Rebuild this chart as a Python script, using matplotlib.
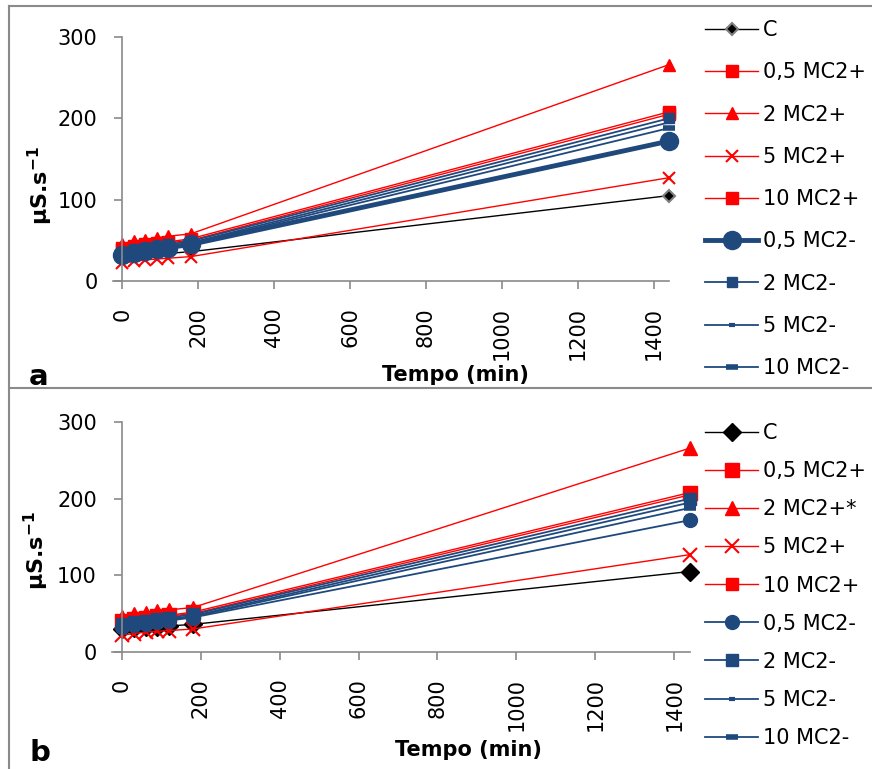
import matplotlib
matplotlib.use("Agg")
import matplotlib.pyplot as plt
from matplotlib.lines import Line2D

# dados: tempo (min) e condutividade
tempo = [0, 30, 60, 90, 120, 180, 1440]
nomes_a = ["C", "0,5 MC2+", "2 MC2+", "5 MC2+", "10 MC2+", "0,5 MC2-", "2 MC2-", "5 MC2-", "10 MC2-"]
nomes_b = ["C", "0,5 MC2+", "2 MC2+*", "5 MC2+", "10 MC2+", "0,5 MC2-", "2 MC2-", "5 MC2-", "10 MC2-"]
c_ctrl = [30, 31, 32, 33, 34, 36, 105]
mc05p = [40, 43, 45, 47, 48, 52, 208]
mc2p = [46, 49, 51, 53, 55, 58, 266]
mc5p = [22, 24, 26, 27, 28, 30, 127]
mc10p = [38, 41, 43, 45, 47, 50, 205]
mc05m = [32, 35, 37, 39, 41, 45, 172]
mc2m = [36, 39, 41, 43, 45, 49, 200]
mc5m = [34, 37, 39, 41, 43, 47, 195]
mc10m = [33, 36, 38, 40, 42, 46, 188]
series = [c_ctrl, mc05p, mc2p, mc5p, mc10p, mc05m, mc2m, mc5m, mc10m]

RED = "#FF0000"
BLUE = "#1F497D"
GRAY = "#8A8A8A"

# estilos (cor, marcador, tamanho, espessura linha, mew, cor borda)
estilo_a = [
    ("black", "D", 6, 1.0, 1.5, "#7F7F7F"),
    (RED, "s", 9, 1.0, 1, RED),
    (RED, "^", 9, 1.0, 1, RED),
    (RED, "x", 8, 1.0, 1.5, RED),
    (RED, "s", 8, 1.0, 1, RED),
    (BLUE, "o", 13, 3.5, 1, BLUE),
    (BLUE, "s", 7, 1.3, 1, BLUE),
    (BLUE, "_", 5, 1.3, 3, BLUE),
    (BLUE, "_", 8, 1.3, 4, BLUE),
]
estilo_b = [
    ("black", "D", 9, 1.0, 1, "black"),
    (RED, "s", 10, 1.0, 1, RED),
    (RED, "^", 10, 1.0, 1, RED),
    (RED, "x", 10, 1.0, 1.5, RED),
    (RED, "s", 9, 1.0, 1, RED),
    (BLUE, "o", 10, 1.3, 1, BLUE),
    (BLUE, "s", 9, 1.3, 1, BLUE),
    (BLUE, "_", 5, 1.3, 3, BLUE),
    (BLUE, "_", 9, 1.3, 4, BLUE),
]

W, H = 872, 769
fig = plt.figure(figsize=(W / 100, H / 100), dpi=100)


def painel(rect, nomes, estilos, leg_top, leg_sp, ylab_y, letra, letra_y, tempo_xy):
    ax = fig.add_axes(rect)
    for dados, nome, (cor, mk, ms, lw, mew, ec) in zip(series, nomes, estilos):
        ax.plot(tempo, dados, color=cor, marker=mk, markersize=ms, linewidth=lw,
                markeredgewidth=mew, markeredgecolor=ec, markerfacecolor=cor,
                label=nome, clip_on=False)
    ax.set_xlim(-25, 1440)
    ax.set_ylim(0, 300)
    ax.set_xticks(range(0, 1401, 200))
    ax.set_yticks([0, 100, 200, 300])
    ax.spines["top"].set_visible(False)
    ax.spines["right"].set_visible(False)
    ax.spines["left"].set_position(("data", 0))
    for s in ["left", "bottom"]:
        ax.spines[s].set_color(GRAY)
        ax.spines[s].set_linewidth(1.2)
    ax.tick_params(axis="both", colors=GRAY, width=1.2, length=6, labelcolor="black", labelsize=15)
    ax.tick_params(axis="y", pad=12)
    ax.tick_params(axis="x", pad=13, labelrotation=90)
    ax.set_ylabel("µS.s$^{\\mathbf{-1}}$", fontsize=16, fontweight="bold")
    ax.yaxis.set_label_coords(-0.105, ylab_y)
    fig.text(tempo_xy[0] / W, 1 - tempo_xy[1] / H, "Tempo (min)", fontsize=15,
             fontweight="bold", ha="center", va="center")
    fig.text(29 / W, 1 - letra_y / H, letra, fontsize=21, fontweight="bold", va="baseline")
    fig.legend(*ax.get_legend_handles_labels(), loc="upper left",
               bbox_to_anchor=(705 / W, 1 - leg_top / H), frameon=False,
               fontsize=15, borderpad=0, borderaxespad=0, handlelength=2.55,
               handletextpad=0.25, labelspacing=leg_sp)
    return ax


painel([113 / W, 1 - 281 / H, 556 / W, 244 / H], nomes_a, estilo_a, 20, 1.07, 0.39, "a", 385, (455, 375))
painel([112 / W, 1 - 652 / H, 578 / W, 230 / H], nomes_b, estilo_b, 423, 0.87, 0.44, "b", 761, (468, 750))

# moldura cinza
fig.add_artist(Line2D([9 / W, 9 / W], [0, 1 - 6 / H], transform=fig.transFigure, color=GRAY, lw=1.5))
fig.add_artist(Line2D([9 / W, 1], [1 - 6 / H, 1 - 6 / H], transform=fig.transFigure, color=GRAY, lw=1.5))
fig.add_artist(Line2D([9 / W, 1], [1 - 388 / H, 1 - 388 / H], transform=fig.transFigure, color=GRAY, lw=1.5))

fig.savefig("out.png", dpi=100)
